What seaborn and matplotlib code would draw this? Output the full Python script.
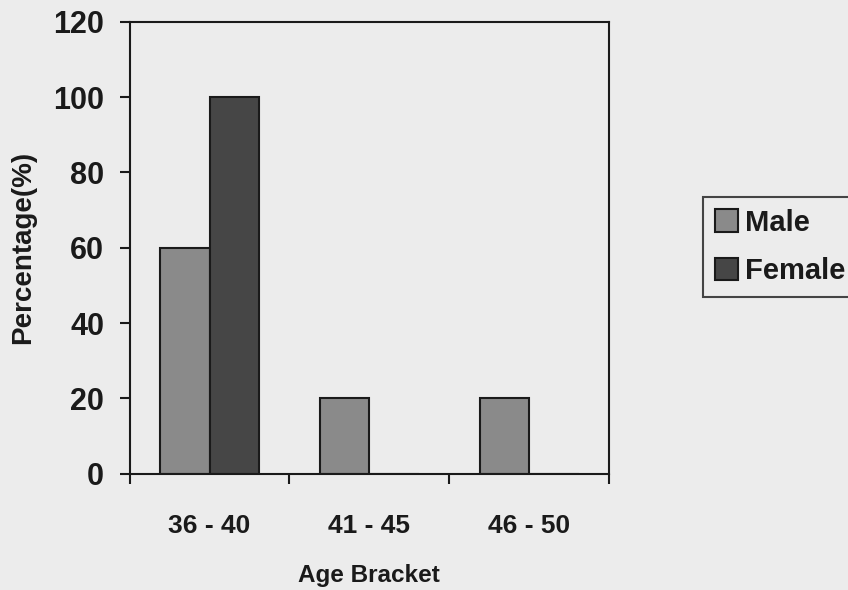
import matplotlib
matplotlib.use("Agg")
import matplotlib.pyplot as plt
from matplotlib.ticker import FixedLocator
from matplotlib.patches import Patch
import seaborn as sns
import pandas as pd

categories = ["36 - 40", "41 - 45", "46 - 50"]
male = [60, 20, 20]
female = [100, 0, 0]
series = ["Male", "Female"]
colors = {"Male": "#8a8a8a", "Female": "#464646"}

df = pd.DataFrame({
    "Age Bracket": categories * 2,
    "Percentage": male + female,
    "Gender": ["Male"] * 3 + ["Female"] * 3,
})

sns.set_style("white")
plt.rcParams["font.family"] = ["Liberation Sans", "DejaVu Sans"]
plt.rcParams["font.weight"] = "bold"

ink = "#1a1a1a"
bg = "#ececec"
fig = plt.figure(figsize=(8.48, 5.9), dpi=100, facecolor=bg)
ax = fig.add_axes([0.153, 0.197, 0.565, 0.766])
ax.set_facecolor(bg)

sns.barplot(data=df, x="Age Bracket", y="Percentage", hue="Gender",
            hue_order=series, order=categories, palette=colors,
            width=0.62, edgecolor=ink, linewidth=1.5, ax=ax,
            legend=False)

ax.set_xlim(-0.5, 2.5)
ax.set_ylim(0, 120)
ax.set_yticks([0, 20, 40, 60, 80, 100, 120])
ax.tick_params(axis="y", direction="out", length=7.5, width=1.5, color=ink,
               labelsize=22, pad=11, left=True)
ax.tick_params(axis="x", which="major", length=0, labelsize=19, pad=29)
ax.xaxis.set_minor_locator(FixedLocator([-0.5, 0.5, 1.5, 2.5]))
ax.tick_params(axis="x", which="minor", direction="out", length=7.5, width=1.5,
               color=ink, bottom=True)
for lab in ax.get_xticklabels() + ax.get_yticklabels():
    lab.set_fontweight("bold")
    lab.set_color(ink)

for s in ax.spines.values():
    s.set_visible(True)
    s.set_color(ink)
    s.set_linewidth(1.5)

ax.set_xlabel("Age Bracket", fontsize=17.5, fontweight="bold", color=ink, labelpad=19)
ax.set_ylabel("Percentage(%)", fontsize=20, fontweight="bold", color=ink, labelpad=12)

handles = [Patch(facecolor=colors[s], edgecolor=ink, linewidth=1.5, label=s) for s in series]
leg = fig.legend(handles=handles, loc="upper left", bbox_to_anchor=(0.829, 0.666),
                 fontsize=21, frameon=True, handlelength=0.8, handleheight=0.8,
                 handletextpad=0.25, borderpad=0.4, labelspacing=0.7,
                 fancybox=False, edgecolor=ink, facecolor=bg, borderaxespad=0)
leg.get_frame().set_linewidth(1.5)
for t in leg.get_texts():
    t.set_fontweight("bold")
    t.set_color(ink)

fig.savefig("out.png", dpi=100, facecolor=bg)
